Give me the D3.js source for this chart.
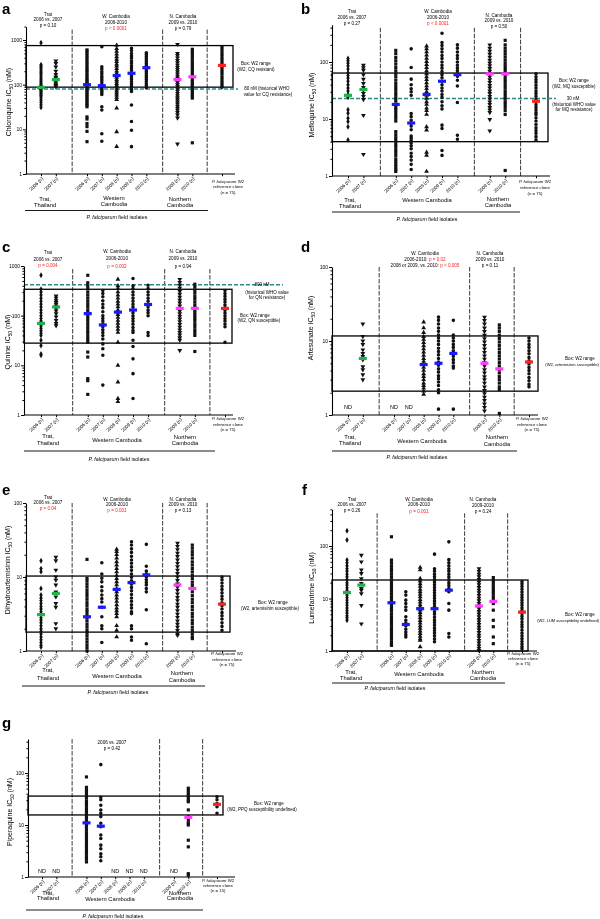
<!DOCTYPE html>
<html><head><meta charset="utf-8">
<script src="https://cdn.jsdelivr.net/npm/d3@7"></script>
<style>
body{margin:0;background:#fff}
svg{display:block;will-change:transform}
text{font-family:"Liberation Sans",Arial,sans-serif}
</style></head>
<body><svg id="chart" width="600" height="919"></svg>
<script>
// ---------------- DATA ----------------
const categories = ["Trat 2006","Trat 2007","W. Cambodia 2006","W. Cambodia 2007","W. Cambodia 2008","W. Cambodia 2009","W. Cambodia 2010","N. Cambodia 2009","N. Cambodia 2010","W2 clone"];
const tickLabels = ["2006 (n)","2007 (n)","2006 (n)","2007 (n)","2008 (n)","2009 (n)","2010 (n)","2009 (n)","2010 (n)"];
const groupColors = ["#22b04a","#22b04a","#1a1aff","#1a1aff","#1a1aff","#1a1aff","#1a1aff","#ff3cff","#ff3cff","#ff2020"];

// Chloroquine (a)
const cqValues = [
 [870,280,260,240,220,200,185,170,155,140,128,118,108,100,95,90,86,82,78,74,70,66,62,58,55,50,45,40,35,31],
 [340,300,250,200,170,150,140,130,120,110,100,95,90],
 [600,560,500,450,400,360,320,290,260,230,210,190,170,155,140,128,118,108,100,92,85,78,72,66,60,55,50,46,42,38,35,32,19,17,13.5,11.5,9,5.3],
 [710,250,220,195,175,155,140,125,112,100,92,85,78,72,66,60,32,27,8,5.4],
 [760,640,560,480,420,370,330,290,260,230,200,180,160,145,130,118,106,96,88,80,72,65,58,52,46,30,8.8,4.1],
 [650,580,500,440,390,340,300,265,235,210,185,165,148,132,118,105,95,85,76,70,35,15,9.5,4.1],
 [520,470,420,380,340,300,270,245,220,200,180,160,145,130,118,105,95,85],
 [800,500,450,400,350,310,275,245,220,195,175,155,140,125,112,100,90,80,72,64,57,51,46,41,37,33,30,27,24,21,18,4.7],
 [620,560,500,440,390,340,300,265,235,210,185,165,148,132,118,105,95,85,76,68,61,55,50,5],
 [700,630,560,500,450,400,360,320,290,260,235,210,190,170,150,135,120,108,97,88]
];
const cqMedians = [87,130,100,95,160,180,240,130,150,270];
const cqBox = [88,750];
const cqThreshold = 80;

// Mefloquine (b)
const mqValues = [
 [115,105,95,85,75,65,58,52,46,40,35,31,27,24,14.5,12.6,10.3,9,7.3,4.3],
 [88,80,72,60,50,42,36,32,28,25,22,11.6,2.4],
 [160,140,120,105,92,80,70,62,55,48,42,37,33,29,26,23,20.5,18,16,14.5,13,11.5,10.3,9.2,6,5.3,4.7,4.2,3.7,3.3,2.9,2.6,2.3,2.0,1.8,1.6,1.45,1.3,1.2],
 [170,80,50,40,34,30,26,12.5,11,9.5,8.5,7.5,6.5,5,4.6,4.2,3.8,3.4,3.0,2.5,2.2,1.9,1.6,1.3],
 [190,170,150,132,116,102,90,80,70,62,55,49,43,38,34,30,26,23,20,18,15.5,14,12,7.3,6.4,2.6,2.3,1.2],
 [320,220,195,170,150,130,115,100,88,78,68,60,53,46,40,35,31,27,24,20,17,15,7.8,6.8,2.8,2.3],
 [200,175,150,130,115,100,88,78,70,62,56,48,38,19.5,5.2,4.4],
 [200,175,155,138,122,108,96,86,77,69,62,55,49,44,39,35,31,28,25,22.5,20,18,16,14.5,13,9.8,6.2],
 [240,200,175,155,138,122,108,96,86,77,69,62,55,49,44,39,35,31,28,25,22.5,20,18,16,14,12,1.25],
 [62,55,49,44,39,35,31,28,25,22.5,20,18,16,14.5,13,12,10.5,9.2,8,7,6.3,5.6,4.9,4.3]
];
const mqMedians = [26,33,18,8.5,27,46,60,62,62,20.5];
const mqBox = [4,64];
const mqThreshold = 23;

// Quinine (c)
const qnValues = [
 [650,340,300,260,225,195,170,150,130,115,100,88,78,70,62,55,49,44,40,32,25,17,16],
 [250,225,200,185,170,155,140,125,110,95,80,70,63],
 [650,460,400,350,300,260,225,195,170,150,130,115,100,88,77,67,58,50,44,38,33,29,18.5,14.7,5.4,4.9,2.6],
 [320,280,240,200,170,145,120,100,88,77,68,60,52,46,40,34,27,21.5,16,4],
 [540,400,350,300,260,225,195,170,150,130,118,105,92,80,70,61,53,46,29,10,4.6,2.15,1.85],
 [560,400,350,300,260,225,195,170,150,130,115,100,88,77,67,58,50,46,32,24,13.5,6.8,2.15],
 [410,350,300,260,225,195,170,150,130,115,100,46,40],
 [540,470,410,360,310,270,235,205,180,158,140,124,110,97,86,76,67,59,52,46,41,36,32,20],
 [430,380,330,290,250,220,190,165,145,128,113,100,88,78,68,60,52,46,40,19],
 [320,280,245,215,190,165,145,128,113,100,88,78,68,60,29]
];
const qnMedians = [70,150,110,65,118,130,168,140,140,140];
const qnBox = [28,340];
const qnThreshold = 420;

// Artesunate (d)
const asValues = [
 [],
 [17,11.5,10,9,7.6,6.8,6.2,5.6,4.5,4.1,3.5,3],
 [],
 [],
 [18,15,13,11.5,10.5,9.5,8.6,7.8,7.1,6.4,5.8,5.3,4.8,4.4,4,3.6,3.3,3,2.7,2.5,2.3,2.1,1.9],
 [21,19,17,15,13.5,12,11,10,9,8,7.2,6.5,5.8,5.2,4.7,4.2,3.8,3.4,3.1,2.8,2.5,2.2,2.0,1.2],
 [19,12,11,10,9,8.2,7.4,6.8,6.2,5.6,5.1,4.6,4.3,1.2],
 [21,19,17,15,13.5,12,10.8,9.7,8.7,7.8,7,6.3,5.7,5.1,4.6,4.1,3.7,3.3,3,2.7,2.4,2.15,1.95,1.75,1.57,1.41,1.27,1.14],
 [16.5,15,13.5,12,10.8,9.7,8.7,7.8,7,6.3,5.7,5.1,4.6,4.1,3.7,3.3,3,2.7,2.4,2.2,1.05],
 [11,10,9,8.2,7.4,6.7,6,5.4,4.9,4.4,4,3.6,3.2,2.9,2.6,2.4]
];
const asMedians = [null,5.8,null,null,4.8,5.0,6.8,5.0,4.2,5.2];
const asBox = [2.1,11.7];

// Dihydroartemisinin (e)
const dhaValues = [
 [16.6,13,11.8,7,5.7,5.2,4.8,4.4,4,3.7,3.4,3.1,2.8,2.6,2.4,2.2,2,1.85,1.7,1.55,1.42,1.3,1.2,1.13],
 [18.5,16.6,12.4,10,9.1,7.8,6.3,5.4,4.4,3.9,2.35,2.0],
 [17.3,9.6,8.8,8,7.3,6.6,6,5.5,5,4.5,4.1,3.7,3.4,3.1,2.8,2.55,2.3,2.1,1.9,1.75,1.6,1.45,1.32,1.2,1.1,1.0],
 [15.6,11,9.6,8.6,7.4,6.5,5.7,5.1,4.6,3.9,2.9,2.2,2.0,1.3],
 [23.7,22,20,18,16,14.5,13,11.7,10.5,9.5,8.6,7.8,7,6.3,5.7,5.2,4.7,4.2,3.8,3.5,3.2,2.9,2.2,1.9,1.55],
 [30,27,24,21.5,19,17,15.3,13.7,12.3,11,9.9,8.9,8,7.2,6.5,5.8,5.2,4.7,4.2,3.8,3.4,3.2,2.2,2.0,1.55,1.4],
 [27.6,14,12,11,10,9.2,8.4,7.8,7,6.3,3.6,1.25],
 [28.6,26,23.5,21,19,17,15.3,13.8,12.4,11.2,10,9,8.1,7.3,6.6,5.9,5.3,4.8,4.3,3.9,3.5,3.15,2.85,2.55,2.3,2.1,1.9,1.7,1.63],
 [27,24.5,22,20,18,16,14.5,13,11.7,10.5,9.5,8.5,7.7,7,6.3,5.6,5,4.5,4,3.6,3.2,2.9,2.6,2.35,2.1,1.9,1.7,1.55,1.47],
 [10,9.2,8.3,7.5,6.8,6.1,5.5,5,4.5,4.1,3.7,3.3,3,2.7,2.4,2.15,1.9]
];
const dhaMedians = [3.1,6,2.9,3.9,6.8,8.4,10.7,7.8,7,4.3];
const dhaBox = [1.8,10.3];

// Lumefantrine (f)
const lumValues = [
 [195,130,54,48,42,37,33,29,26,23,20,18,16,14.3,13,11.6,10.4,9.3,8.3,7.4,6.6,5.9,5.3,4.7,4.3,3.85],
 [67,50,35,30,24,19.3,15.5,14.4,12.4,7.4,3.3],
 [150,54,48,42,37,33,29,25.5,22.5,20,17.6,15.5,13.7,12.1,10.7,9.5,8.4,7.4,6.5,5.8,5.1,4.5,4,3.5,3.1,2.75,2.45,2.15,1.9,1.7,1.5,1.35,1.28],
 [13.4,11.6,9.3,8,6.9,6,4.5,3.85,3.4,3,2.6,2.3,2.05,1.85],
 [39,35,24,21.5,19,17,15,13.4,12,10.7,9.5,8.5,7.6,6.8,6,5.4,4.8,4.3,3.8,3.4,3,2.7,2.4,2.15,1.9,1.7,1.6,1.2],
 [70,37,33,29,26,23,20.5,18.2,16.2,14.4,12.8,11.4,10.1,9,8,7.1,6.3,5.6,5,4.4,3.9,3.5,3.1,2.75,2.45,2.2,1.95,1.7,1.5],
 [120,55,48,42,37,33,29,25.5,22.5,20,17.6,15.5,13.4,8,6,2.15,1.85],
 [37,33,29,26,23,20.5,18.3,16.3,14.5,12.9,11.5,10.2,9.1,8.1,7.2,6.4,5.7,5.1,4.5,4,3.6,3.2,2.85,2.55,2.25,2,1.8,1.6,1.42,1.27,1.13,1.03],
 [25,22,19.5,17.3,15.4,13.7,12.2,10.8,9.6,8.6,8,6,3.85,2.9,1.85,1.38],
 [21,19,17,15,13.3,11.8,10.5,9.3,8.3,7.4,6.6,5.9,5.2,4.6,4.1,3.6,3.2,2.85,2.5,2.2,1.95,1.72,1.52,1.35,1.2,1.1]
];
const lumMedians = [13,18,8.3,3.2,6.4,6.4,14.4,7.2,8.8,5.5];
const lumBox = [1,22.5];

// Piperaquine (g)
const ppqValues = [
 [],
 [],
 [84,53,47,42,37,33,29,26,23,20.5,18.2,16.2,14.4,12.8,11.4,10.1,9,8,7.1,6.3,5.6,5,4.4,3.9,3.5,3.1,2.75,2.45,2.2,1.95],
 [145,34,30.5,24,19.5,16.8,14.5,10.8,9.3,6.4,5.5,4.1,3.5,2.8,2.45,2.05],
 [],
 [],
 [],
 [],
 [51,46,41,37,33,30,28,19.5,14.5,12.5,11,10,5.1,3.8,1.16,1.08],
 [35,30.5,26,22.5,16.8]
];
const ppqMedians = [null,null,11,9.5,null,null,null,null,14,25];
const ppqBox = [15.6,36];

// ---------------- LAYOUT ----------------
const slots = [0,1,3.1,4.1,5.1,6.1,7.1,9.2,10.2,12.2];
const sepSlots = [2.1,8.2,11.2];
const invTri = {draw(ctx,size){const s=Math.sqrt(size/(Math.sqrt(3)/4));const h=s*Math.sqrt(3)/2;ctx.moveTo(0,h*2/3);ctx.lineTo(-s/2,-h/3);ctx.lineTo(s/2,-h/3);ctx.closePath();}};
const shapes = [d3.symbolDiamond, invTri, d3.symbolSquare, d3.symbolCircle, d3.symbolTriangle, d3.symbolCircle, d3.symbolCircle, invTri, d3.symbolSquare, d3.symbolCircle];
const RED = "#ff2020";

const svg = d3.select("#chart");

function txt(g, x, y, s, size, opts={}) {
  const t = g.append("text").attr("x", x).attr("y", y).attr("font-size", size)
    .attr("text-anchor", opts.anchor || "middle").attr("fill", opts.fill || "#000");
  if (opts.weight) t.attr("font-weight", opts.weight);
  if (Array.isArray(s)) {
    s.forEach(part => {
      const sp = t.append("tspan").text(part.t);
      if (part.c) sp.attr("fill", part.c);
      if (part.i) sp.attr("font-style", "italic");
    });
  } else t.text(s);
  return t;
}

function drawPanel(p) {
  const g = svg.append("g");
  const yTopPix = p.y1 - (p.y1 - p.yRef) * Math.log10(p.topVal) / Math.log10(p.refVal);
  const y = d3.scaleLog().domain([1, p.topVal]).range([p.y1, yTopPix]);
  const x = d3.scaleLinear().domain([0, 12.2]).range([p.x0, p.x1]);

  sepSlots.forEach(s => {
    g.append("line").attr("x1", x(s)).attr("x2", x(s)).attr("y1", yTopPix + p.sepTopOff).attr("y2", p.y1)
      .attr("stroke", "#222").attr("stroke-width", 0.9).attr("stroke-dasharray", "4.5,1.5");
  });

  g.append("rect").attr("x", p.ax).attr("y", y(p.box[1]))
    .attr("width", p.boxRight - p.ax).attr("height", y(p.box[0]) - y(p.box[1]))
    .attr("fill", "none").attr("stroke", "#000").attr("stroke-width", 1.3);

  if (p.thr) {
    g.append("line").attr("x1", p.ax).attr("x2", p.thrEnd).attr("y1", y(p.thr)).attr("y2", y(p.thr))
      .attr("stroke", "#2a8a86").attr("stroke-width", 1.5).attr("stroke-dasharray", "4,2");
  }

  p.values.forEach((vals, i) => {
    const sym = d3.symbol().type(shapes[i]).size(10);
    g.append("g").selectAll("path").data(vals).join("path")
      .attr("transform", d => `translate(${x(slots[i])},${y(d)})`)
      .attr("d", sym).attr("fill", "#111");
  });
  p.medians.forEach((m, i) => {
    if (m == null) return;
    g.append("rect").attr("x", x(slots[i]) - 4).attr("y", y(m) - 1.6).attr("width", 8).attr("height", 3.2)
      .attr("fill", groupColors[i]);
  });

  const major = [1, 10, 100, 1000].filter(v => v <= p.topVal);
  const minor = [];
  for (let d = 1; d < p.topVal; d *= 10) for (let k = 2; k <= 9; k++) if (d * k <= p.topVal) minor.push(d * k);
  const ya = g.append("g").attr("transform", `translate(${p.ax},0)`)
    .call(d3.axisLeft(y).tickValues(major).tickSize(3).tickSizeOuter(0).tickFormat(d3.format("d")));
  ya.select(".domain").attr("stroke-width", 1.1);
  ya.selectAll(".tick text").attr("font-size", 5).attr("x", -4).attr("font-family", "Liberation Sans, Arial");
  const ym = g.append("g").attr("transform", `translate(${p.ax},0)`)
    .call(d3.axisLeft(y).tickValues(minor).tickSize(1.6).tickFormat(""));
  ym.select(".domain").remove();

  g.append("line").attr("x1", p.ax).attr("x2", p.xEnd).attr("y1", p.y1).attr("y2", p.y1).attr("stroke", "#000").attr("stroke-width", 1.1);
  const xa = g.append("g").attr("transform", `translate(0,${p.y1})`)
    .call(d3.axisBottom(x).tickValues(slots).tickSize(2.2).tickFormat(""));
  xa.select(".domain").remove();

  tickLabels.forEach((lab, i) => {
    const cx = x(slots[i]) + 1.5, cy = p.y1 + 4;
    g.append("text").attr("transform", `translate(${cx},${cy}) rotate(-45)`)
      .attr("text-anchor", "end").attr("font-size", 4.6).attr("dy", "0.3em").attr("fill", "#000").text(lab);
  });
  p.values.forEach((vals, i) => {
    if (vals.length === 0 && i < 9) txt(g, x(slots[i]), p.y1 - p.ndOff, "ND", 5.5);
  });

  const w2 = ["P. falciparum W2", "reference clone", `(n = ${p.w2n})`];
  w2.forEach((s, k) => {
    if (k === 0) txt(g, p.w2x, p.w2y[k], [{t: "P. falciparum", i: true}, {t: " W2"}], 4.3);
    else txt(g, p.w2x, p.w2y[k], s, 4.3);
  });

  p.groups.forEach(gr => gr.lines.forEach((s, k) => txt(g, gr.x, gr.ys[k], s, 5.8)));
  g.append("line").attr("x1", p.lineX[0]).attr("x2", p.lineX[1]).attr("y1", p.lineY).attr("y2", p.lineY)
    .attr("stroke", "#000").attr("stroke-width", 0.9);
  txt(g, p.isoX, p.isoY, [{t: "P. falciparum", i: true}, {t: " field isolates"}], 5.3);

  p.headers.forEach(h => h.lines.forEach((s, k) => txt(g, h.x, h.ys[k], s, 4.6)));

  p.notes.forEach(n => txt(g, n.x, n.y, n.t, n.s || 4.5, {anchor: n.a || "middle"}));

  const yl = g.append("text").attr("transform", `translate(${p.yl[0]},${p.yl[1]}) rotate(-90)`)
    .attr("text-anchor", "middle").attr("font-size", 7).attr("dy", "0.35em");
  yl.append("tspan").text(p.drug + " IC");
  yl.append("tspan").text("50").attr("font-size", 4.8).attr("dy", "1.5");
  yl.append("tspan").text(" (nM)").attr("dy", "-1.5");

  txt(g, p.letter[0], p.letter[1], p.id, 15, {anchor: "start", weight: "bold"});
}

const panels = [
 {id:"a", drug:"Chloroquine", values:cqValues, medians:cqMedians, box:cqBox, thr:cqThreshold, thrEnd:238,
  ax:26, y1:174, yRef:40, refVal:1000, topVal:2000, x0:41, x1:222, xEnd:235, boxRight:233, sepTopOff:3, ndOff:7,
  w2x:228, w2y:[182.5,188,193.5], w2n:75,
  groups:[{x:45, ys:[200.5,206.5], lines:["Trat,","Thailand"]},{x:114, ys:[200,206], lines:["Western","Cambodia"]},{x:180, ys:[200.5,206.5], lines:["Northern","Cambodia"]}],
  lineX:[25,208], lineY:210.5, isoX:117, isoY:218.5,
  headers:[{x:48, ys:[15.5,21,26.5], lines:["Trat","2006 vs. 2007","p = 0.10"]},
           {x:116, ys:[17.5,24,30], lines:["W. Cambodia","2006-2010",[{t:"p < 0.0001",c:RED}]]},
           {x:183, ys:[17.5,23.5,30], lines:["N. Cambodia","2009 vs. 2010","p = 0.79"]}],
  notes:[{x:256,y:65,t:"Box: W2 range"},{x:256,y:71,t:"(W2, CQ resistant)"},
         {x:267,y:90,t:"80 nM (historical WHO"},{x:268,y:96,t:"value for CQ resistance)"}],
  yl:[9,102], letter:[2,13.5]},
 {id:"b", drug:"Mefloquine", values:mqValues, medians:mqMedians, box:mqBox, thr:mqThreshold, thrEnd:556,
  ax:332, y1:176, yRef:62, refVal:100, topVal:450, x0:348, x1:536, xEnd:550, boxRight:548, sepTopOff:3, ndOff:7,
  w2x:535, w2y:[183,189,194.5], w2n:75,
  groups:[{x:350, ys:[202,207.5], lines:["Trat,","Thailand"]},{x:427, ys:[202], lines:["Western Cambodia"]},{x:498, ys:[201,207], lines:["Northern","Cambodia"]}],
  lineX:[332,520], lineY:212, isoX:427, isoY:221,
  headers:[{x:352, ys:[13,18.5,24.5], lines:["Trat","2006 vs. 2007","p = 0.27"]},
           {x:438, ys:[13,18.5,24.5], lines:["W. Cambodia","2006-2010",[{t:"p < 0.0001",c:RED}]]},
           {x:499, ys:[16.5,22,27.5], lines:["N. Cambodia","2009 vs. 2010","p = 0.50"]}],
  notes:[{x:574,y:82,t:"Box: W2 range"},{x:574,y:88,t:"(W2, MQ susceptible)"},
         {x:573,y:100,t:"30 nM"},{x:574,y:105.5,t:"(historical WHO value"},{x:574,y:111,t:"for MQ resistance)"}],
  yl:[312,105], letter:[301,14]},
 {id:"c", drug:"Quinine", values:qnValues, medians:qnMedians, box:qnBox, thr:qnThreshold, thrEnd:283,
  ax:24, y1:415, yRef:266, refVal:1000, topVal:1000, x0:41, x1:225, xEnd:233, boxRight:232, sepTopOff:3, ndOff:7,
  w2x:228, w2y:[420,425.5,431], w2n:75,
  groups:[{x:48, ys:[438,444.5], lines:["Trat,","Thailand"]},{x:117, ys:[442], lines:["Western Cambodia"]},{x:185, ys:[438.5,445], lines:["Northern","Cambodia"]}],
  lineX:[24,215], lineY:451, isoX:119, isoY:460.5,
  headers:[{x:48, ys:[253.5,260.5,266.5], lines:["Trat","2006 vs. 2007",[{t:"p = 0.004",c:RED}]]},
           {x:117, ys:[252.5,260,267.5], lines:["W. Cambodia","2006-2010",[{t:"p = 0.002",c:RED}]]},
           {x:183, ys:[252.5,260,267.5], lines:["N. Cambodia","2009 vs. 2010","p = 0.94"]}],
  notes:[{x:262,y:286,t:"800 nM"},{x:267,y:293.5,t:"(historical WHO value"},{x:267,y:299,t:"for QN resistance)"},
         {x:255,y:316.5,t:"Box: W2 range"},{x:259,y:322,t:"(W2, QN susceptible)"}],
  yl:[8,342], letter:[2,252]},
 {id:"d", drug:"Artesunate", values:asValues, medians:asMedians, box:asBox, thr:null,
  ax:332, y1:415, yRef:267, refVal:100, topVal:100, x0:348, x1:529, xEnd:538, boxRight:538, sepTopOff:0, ndOff:6,
  w2x:532, w2y:[420,425.5,431], w2n:75,
  groups:[{x:350, ys:[438.5,445], lines:["Trat,","Thailand"]},{x:422, ys:[442.5], lines:["Western Cambodia"]},{x:497, ys:[439,446], lines:["Northern","Cambodia"]}],
  lineX:[332,517], lineY:451, isoX:417, isoY:459,
  headers:[{x:425, ys:[254.5,260.5,266.5], lines:["W. Cambodia",[{t:"2006-2010: "},{t:"p = 0.02",c:RED}],[{t:"2008 or 2009, vs. 2010: "},{t:"p < 0.005",c:RED}]]},
           {x:490, ys:[254.5,260.5,266.5], lines:["N. Cambodia","2009 vs. 2010","p = 0.11"]}],
  notes:[{x:580,y:360,t:"Box: W2 range"},{x:599,y:366,t:"(W2, artemisinin susceptible)",a:"end",s:4.2}],
  yl:[311,328], letter:[301,251.5]},
 {id:"e", drug:"Dihydroartemisinin", values:dhaValues, medians:dhaMedians, box:dhaBox, thr:null,
  ax:26, y1:651, yRef:503, refVal:100, topVal:100, x0:41, x1:222, xEnd:236, boxRight:230, sepTopOff:0, ndOff:7,
  w2x:227, w2y:[655,660.5,666], w2n:75,
  groups:[{x:48, ys:[671.5,679.5], lines:["Trat,","Thailand"]},{x:117, ys:[677.5], lines:["Western Cambodia"]},{x:182, ys:[674.5,682], lines:["Northern","Cambodia"]}],
  lineX:[22,205], lineY:686, isoX:118, isoY:694,
  headers:[{x:48, ys:[498.5,504,510], lines:["Trat","2006 vs. 2007",[{t:"p = 0.04",c:RED}]]},
           {x:117, ys:[500.5,505.5,512], lines:["W. Cambodia","2006-2010",[{t:"p = 0.001",c:RED}]]},
           {x:183, ys:[500.5,505.5,512], lines:["N. Cambodia","2009 vs. 2010","p = 0.13"]}],
  notes:[{x:273,y:604,t:"Box: W2 range"},{x:270,y:610,t:"(W2, artemisinin susceptible)"}],
  yl:[8,570], letter:[2,495]},
 {id:"f", drug:"Lumefantrine", values:lumValues, medians:lumMedians, box:lumBox, thr:null,
  ax:332, y1:651, yRef:546, refVal:100, topVal:500, x0:347, x1:522, xEnd:537, boxRight:528, sepTopOff:4, ndOff:7,
  w2x:523, w2y:[654.5,659.5,664.5], w2n:75,
  groups:[{x:351, ys:[673.5,679.5], lines:["Trat,","Thailand"]},{x:419, ys:[675.5], lines:["Western Cambodia"]},{x:483, ys:[673.5,679.5], lines:["Northern","Cambodia"]}],
  lineX:[332,505], lineY:683, isoX:395, isoY:689.5,
  headers:[{x:352, ys:[500.5,505.5,511.5], lines:["Trat","2006 vs. 2007","p = 0.26"]},
           {x:419, ys:[500.5,505.5,513], lines:["W. Cambodia","2006-2010",[{t:"p = 0.001",c:RED}]]},
           {x:483, ys:[501,506.5,513], lines:["N. Cambodia","2009-2010","p = 0.24"]}],
  notes:[{x:580,y:616,t:"Box: W2 range"},{x:599,y:622,t:"(W2, LUM susceptibility undefined)",a:"end",s:4.0}],
  yl:[312,588], letter:[302,495]},
 {id:"g", drug:"Piperaquine", values:ppqValues, medians:ppqMedians, box:ppqBox, thr:null,
  ax:28, y1:877, yRef:773, refVal:100, topVal:450, x0:42, x1:217, xEnd:235, boxRight:223, sepTopOff:0, ndOff:4,
  w2x:218, w2y:[881.5,886.5,891.5], w2n:15,
  groups:[{x:48, ys:[894.5,899.5], lines:["Trat,","Thailand"]},{x:110, ys:[901], lines:["Western Cambodia"]},{x:180, ys:[894.5,899.5], lines:["Northern","Cambodia"]}],
  lineX:[26,203], lineY:910, isoX:113, isoY:917.5,
  headers:[{x:112, ys:[744,749.5], lines:["2006 vs. 2007","p = 0.42"]}],
  notes:[{x:269,y:805,t:"Box: W2 range"},{x:262,y:810.5,t:"(W2, PPQ susceptibility undefined)"}],
  yl:[10,812], letter:[2,728]}
];

panels.forEach(drawPanel);
</script>
</body></html>
